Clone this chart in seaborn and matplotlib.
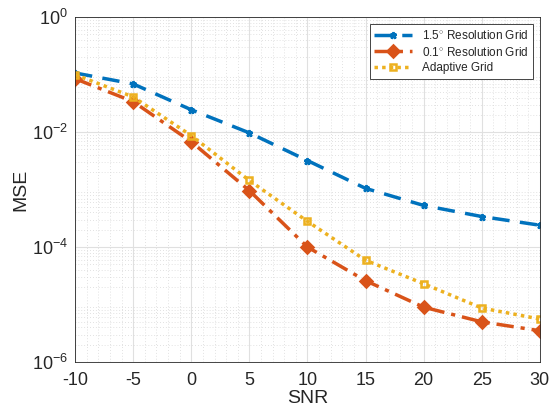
import matplotlib
matplotlib.use("Agg")
import matplotlib.pyplot as plt
import seaborn as sns
import pandas as pd
import numpy as np

snr = [-10, -5, 0, 5, 10, 15, 20, 25, 30]
mse_15 = [0.107, 0.069, 0.0245, 0.0097, 0.0032, 0.00105, 0.00053, 0.00034, 0.00024]
mse_01 = [0.085, 0.034, 0.0068, 0.00096, 0.0001, 2.6e-5, 9e-6, 5e-6, 3.5e-6]
mse_ad = [0.100, 0.041, 0.0087, 0.00144, 0.00028, 5.9e-5, 2.3e-5, 8.7e-6, 5.6e-6]
labels = ["1.5$^{\\circ}$ Resolution Grid", "0.1$^{\\circ}$ Resolution Grid", "Adaptive Grid"]

sns.set_style("white")
plt.rcParams['font.family'] = ['Liberation Sans', 'DejaVu Sans']
plt.rcParams['mathtext.fontset'] = 'custom'
plt.rcParams['mathtext.rm'] = 'Liberation Sans'

df = pd.DataFrame({
    "SNR": snr * 3,
    "MSE": mse_15 + mse_01 + mse_ad,
    "method": [labels[0]] * 9 + [labels[1]] * 9 + [labels[2]] * 9,
})

fig = plt.figure(figsize=(5.52, 4.19), dpi=100)
ax = fig.add_axes([0.136, 0.136, 0.842, 0.823])

colors = ["#0072BD", "#D95319", "#EDB120"]
styles = [(0, (5, 3)), (0, (5, 2, 1.2, 2)), (0, (1, 1.2))]
markers = ["*", "D", "s"]
msizes = [5, 6, 5]
for i, lab in enumerate(labels):
    sub = df[df["method"] == lab]
    sns.lineplot(data=sub, x="SNR", y="MSE", ax=ax, color=colors[i], label=lab,
                 linewidth=2.5, linestyle=styles[i], marker=markers[i],
                 markersize=msizes[i], markeredgecolor=colors[i],
                 markerfacecolor=colors[i] if i < 2 else "none", markeredgewidth=1.8)

ax.set_yscale("log")
ax.set_xlim(-10, 30)
ax.set_ylim(1e-6, 1)
ax.set_xticks(snr)
ax.set_xticklabels([str(s) for s in snr])
ax.set_yticks([1e-6, 1e-4, 1e-2, 1])
ax.set_yticklabels(["$10^{-6}$", "$10^{-4}$", "$10^{-2}$", "$10^{0}$"])
ax.yaxis.set_minor_locator(matplotlib.ticker.LogLocator(base=10, subs=np.arange(2, 10)))
ax.yaxis.set_minor_formatter(matplotlib.ticker.NullFormatter())
ax.xaxis.set_minor_locator(matplotlib.ticker.MultipleLocator(1))

ax.grid(True, which="major", color="#e0e0e0", linewidth=0.8)
ax.grid(True, which="minor", color="#d8d8d8", linewidth=0.6, linestyle=(0, (1, 2.5)))
ax.set_axisbelow(True)

for s in ax.spines.values():
    s.set_color("#262626")
    s.set_linewidth(0.6)
ax.tick_params(which="both", direction="in", length=3, color="#262626", labelsize=13, labelcolor="#262626")
ax.tick_params(axis="x", pad=7)
ax.tick_params(axis="y", pad=5)
ax.tick_params(which="minor", length=0)
ax.tick_params(axis="y", which="minor", length=1.5)

ax.set_xlabel("SNR", fontsize=14, color="#262626", labelpad=1)
ax.set_ylabel("MSE", fontsize=14, color="#262626", labelpad=2)

leg = ax.legend(loc="upper right", fontsize=8.5, frameon=True, fancybox=False,
                edgecolor="#262626", framealpha=1, handlelength=3.2,
                borderpad=0.4, labelspacing=0.3, borderaxespad=0.6)
leg.get_frame().set_linewidth(0.6)

fig.savefig("out.png", dpi=100)
